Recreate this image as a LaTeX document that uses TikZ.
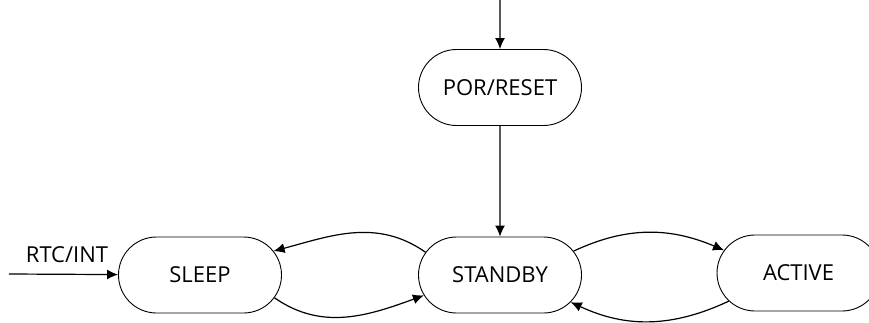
\documentclass[tikz,border=0pt]{standalone}
\usepackage{fontspec}
\setmainfont{Open Sans}
\usetikzlibrary{shapes.misc,arrows.meta}
\begin{document}
\begin{tikzpicture}[x=1pt,y=1pt,
  state/.style={rounded rectangle, draw, line width=0.9pt, minimum width=163pt, minimum height=76pt, inner sep=0pt, font=\fontsize{22}{25}\selectfont},
  conn/.style={line width=1.2pt, -{Latex[length=11pt,width=10pt]}},
  lbl/.style={font=\fontsize{22}{25}\selectfont, inner sep=0pt}]
\useasboundingbox (0,0) rectangle (869,322);
\clip (0,0) rectangle (869,322);
\node[state] (por) at (500,234.5) {POR/RESET};
\node[state] (standby) at (500,47) {STANDBY};
\node[state] (sleep) at (200,47) {SLEEP};
\node[state] (active) at (798.5,49) {ACTIVE};
\node[lbl] (rtc) at (67,67) {RTC/INT};
\coordinate (topin) at (500,322);
\coordinate (rtcin) at (9,48);
\draw[conn] (topin) -- (por);
\draw[conn] (por) -- (standby);
\draw[conn] (rtcin) -- (sleep);
\draw[conn] (standby.163) to[out=145,in=15] (sleep.18);
\draw[conn] (sleep.-17) to[out=-35,in=200] (standby.195);
\draw[conn] (standby.18) to[out=25,in=157] (active.163);
\draw[conn] (active.202) to[out=205,in=-25] (standby.-21);
\end{tikzpicture}
\end{document}
